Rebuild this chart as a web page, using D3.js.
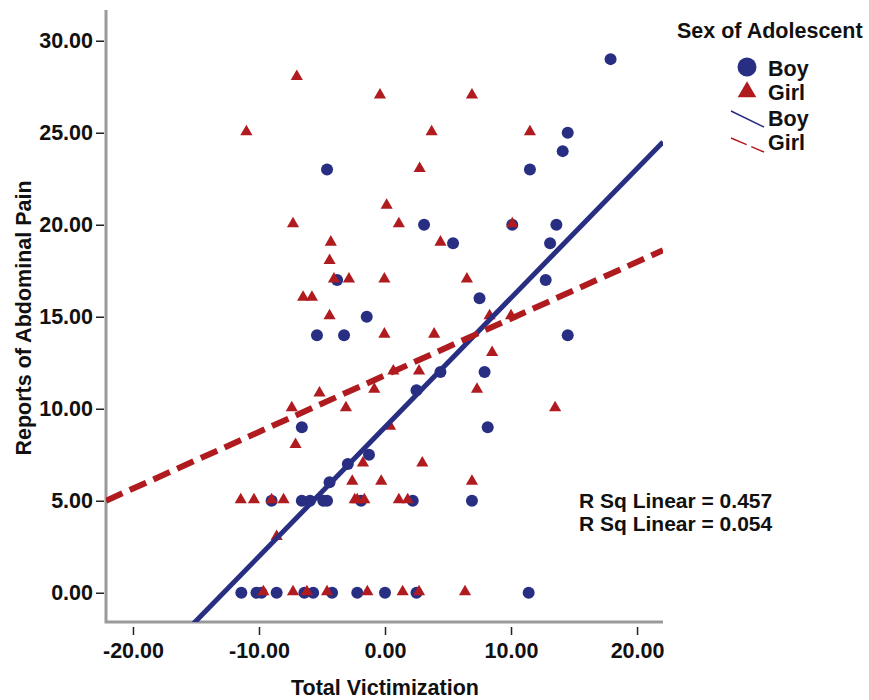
<!DOCTYPE html>
<html>
<head>
<meta charset="utf-8">
<script src="https://cdn.jsdelivr.net/npm/d3@7"></script>
<style>
  body { margin: 0; background: #fff; }
  svg text { font-family: "Liberation Sans", Arial, sans-serif; font-weight: bold; fill: #111; }
</style>
</head>
<body>
<div id="chart"></div>
<script>
const width = 869;
const height = 700;

// boys (circles)
const boyX = [17.9, 14.5, 14.1, -4.6, 11.5, 3.1, 10.1, 13.6, 5.4, 13.1, -3.8, 12.75, 7.5, -1.45,
  -5.4, -3.25, 14.5, 4.4, 7.9, 2.5, -6.6, 8.15, -1.27, -2.95, -4.4,
  -9.0, -6.6, -5.95, -4.9, -4.6, -1.9, 2.2, 6.9,
  -11.4, -10.2, -9.8, -8.6, -6.4, -5.7, -4.2, -2.2, 0.0, 2.5, 11.4];
const boyY = [29, 25, 24, 23, 23, 20, 20, 20, 19, 19, 17, 17, 16, 15,
  14, 14, 14, 12, 12, 11, 9, 9, 7.5, 7, 6,
  5, 5, 5, 5, 5, 5, 5, 5,
  0, 0, 0, 0, 0, 0, 0, 0, 0, 0, 0];

// girls (triangles)
const girlX = [-7.0, -0.4, 6.9, -11.0, 3.7, 11.5, 2.75, 0.13, -7.3, 1.1, 10.1, -4.3, 4.4, -4.4,
  -4.05, -2.86, -0.05, 6.5, -6.5, -5.8, -4.4, 8.3, 10.0, -0.05, 3.9, 8.5, 0.66, 2.7,
  -0.85, 7.3, -5.2, -7.4, -3.1, 13.5, 0.4, -7.1, -1.75, 2.96, -2.6, -0.3, 6.9,
  -11.45, -10.4, -9.0, -8.05, -2.4, -2.2, -1.64, 1.1, 1.8, -8.6,
  -9.65, -7.3, -6.2, -4.6, -1.4, 1.4, 2.7, 6.35];
const girlY = [28, 27, 27, 25, 25, 25, 23, 21, 20, 20, 20, 19, 19, 18,
  17, 17, 17, 17, 16, 16, 15, 15, 15, 14, 14, 13, 12, 12,
  11, 11, 10.8, 10, 10, 10, 9, 8, 7, 7, 6, 6, 6,
  5, 5, 5, 5, 5, 5, 5, 5, 5, 3,
  0, 0, 0, 0, 0, 0, 0, 0];

// linear fits
const fitSex = ["Boy", "Girl"];
const fitIntercept = [9.0, 11.82];
const fitSlope = [0.7025, 0.308];
const rSquared = ["0.457", "0.054"];

const xTicks = [-20, -10, 0, 10, 20];
const yTicks = [0, 5, 10, 15, 20, 25, 30];

const blue = "#282f83";
const red = "#b01b1f";
const fontSize = "21.5px";

const svg = d3.select("#chart")
  .append("svg")
  .attr("width", width)
  .attr("height", height);

const x = d3.scaleLinear().domain([-22.14, 22.06]).range([106, 663]);
const y = d3.scaleLinear().domain([-1.59, 31.67]).range([622, 10]);

const fmt = d => d.toFixed(2);

// axes
const yAxis = svg.append("g")
  .attr("transform", "translate(104,0)")
  .call(d3.axisLeft(y).tickValues(yTicks).tickSize(8).tickPadding(3).tickFormat(fmt));
yAxis.select(".domain").remove();
yAxis.selectAll("line").attr("stroke", "#222").attr("stroke-width", 1.5);
yAxis.selectAll("text").style("font-size", fontSize).attr("fill", "#111");

const xAxis = svg.append("g")
  .attr("transform", "translate(0,627)")
  .call(d3.axisBottom(x).tickValues(xTicks).tickSize(8).tickPadding(8).tickFormat(fmt));
xAxis.select(".domain").remove();
xAxis.selectAll("line").attr("stroke", "#222").attr("stroke-width", 1.5);
xAxis.selectAll("text").style("font-size", fontSize).attr("fill", "#111");

// frame (left and bottom)
svg.append("path")
  .attr("d", "M106,10 V622 H663")
  .attr("fill", "none")
  .attr("stroke", "#9a9a9a")
  .attr("stroke-width", 3);

// axis titles
svg.append("text")
  .attr("x", 385)
  .attr("y", 695)
  .attr("text-anchor", "middle")
  .style("font-size", fontSize)
  .text("Total Victimization");

svg.append("text")
  .attr("transform", "translate(31,318) rotate(-90)")
  .attr("text-anchor", "middle")
  .style("font-size", fontSize)
  .text("Reports of Abdominal Pain");

const plot = svg.append("g");

svg.append("clipPath").attr("id", "clip")
  .append("rect").attr("x", 106).attr("y", 10).attr("width", 557).attr("height", 612);

// points
const boys = boyX.map((v, i) => ({ x: v, y: boyY[i] }));
const girls = girlX.map((v, i) => ({ x: v, y: girlY[i] }));

plot.selectAll("circle.boy")
  .data(boys)
  .enter()
  .append("circle")
  .attr("class", "boy")
  .attr("cx", d => x(d.x))
  .attr("cy", d => y(d.y))
  .attr("r", 6)
  .attr("fill", blue);

const tri = d3.symbol().type(d3.symbolTriangle).size(64);

plot.selectAll("path.girl")
  .data(girls)
  .enter()
  .append("path")
  .attr("class", "girl")
  .attr("d", tri)
  .attr("transform", d => `translate(${x(d.x)},${y(d.y) - 1})`)
  .attr("fill", red);

// fit lines
const xd = x.domain();
const fits = fitSex.map((s, i) => ({
  sex: s,
  pts: xd.map(v => [v, fitIntercept[i] + fitSlope[i] * v])
}));

const line = d3.line().x(d => x(d[0])).y(d => y(d[1]));

plot.selectAll("path.fit")
  .data(fits)
  .enter()
  .append("path")
  .attr("class", "fit")
  .attr("clip-path", "url(#clip)")
  .attr("d", d => line(d.pts))
  .attr("fill", "none")
  .attr("stroke", d => d.sex === "Boy" ? blue : red)
  .attr("stroke-width", d => d.sex === "Boy" ? 5 : 6)
  .attr("stroke-dasharray", d => d.sex === "Boy" ? null : "18,8");

// R squared labels
svg.selectAll("text.rsq")
  .data(rSquared)
  .enter()
  .append("text")
  .attr("class", "rsq")
  .attr("x", 579)
  .attr("y", (d, i) => 508 + i * 23)
  .style("font-size", "21px")
  .text(d => `R Sq Linear = ${d}`);

// legend
const legend = svg.append("g");

legend.append("text")
  .attr("x", 677)
  .attr("y", 38)
  .style("font-size", fontSize)
  .text("Sex of Adolescent");

legend.append("circle")
  .attr("cx", 747)
  .attr("cy", 67)
  .attr("r", 9.5)
  .attr("fill", blue);

legend.append("path")
  .attr("d", d3.symbol().type(d3.symbolTriangle).size(150))
  .attr("transform", "translate(747,92)")
  .attr("fill", red);

legend.append("line")
  .attr("x1", 731).attr("y1", 111)
  .attr("x2", 764).attr("y2", 127)
  .attr("stroke", blue)
  .attr("stroke-width", 1.5);

legend.append("line")
  .attr("x1", 731).attr("y1", 138)
  .attr("x2", 764).attr("y2", 152)
  .attr("stroke", red)
  .attr("stroke-width", 1.5)
  .attr("stroke-dasharray", "17,5");

const legendLabels = ["Boy", "Girl", "Boy", "Girl"];
const legendY = [76, 100, 126, 150];

legend.selectAll("text.item")
  .data(legendLabels)
  .enter()
  .append("text")
  .attr("class", "item")
  .attr("x", 768)
  .attr("y", (d, i) => legendY[i])
  .style("font-size", fontSize)
  .text(d => d);
</script>
</body>
</html>
